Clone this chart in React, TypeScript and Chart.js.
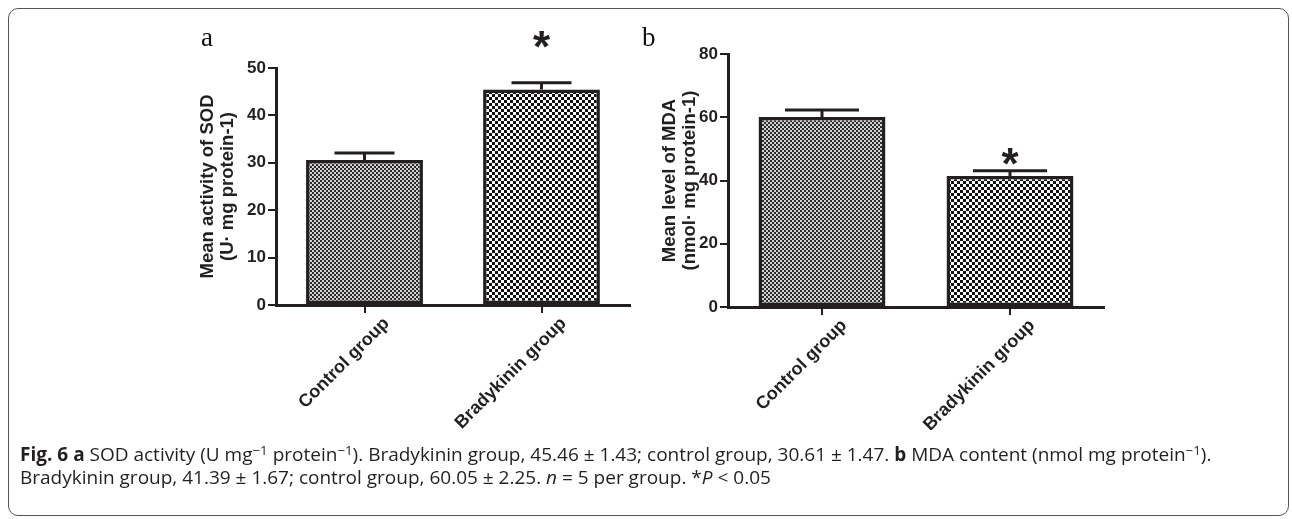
import React, { useEffect, useRef } from 'react';
import { Chart, registerables } from 'chart.js';

Chart.register(...registerables);

// ---------- data ----------
const categories = ['Control group', 'Bradykinin group'];
const sodMeans = [30.61, 45.46];
const sodErrors = [1.47, 1.43];
const mdaMeans = [60.05, 41.39];
const mdaErrors = [2.25, 1.67];
const significance = ['', '*'];
const sodAxisTitle = ['Mean activity of SOD', '(U· mg protein-1)'];
const mdaAxisTitle = ['Mean level of MDA', '(nmol· mg protein-1)'];
const sodAxisMax = 50;
const sodAxisStep = 10;
const mdaAxisMax = 80;
const mdaAxisStep = 20;

const INK = '#231f20';
const SANS = '"Liberation Sans", Arial, sans-serif';

function makeChecker(cell: number, dark: string, light: string) {
  const c = document.createElement('canvas');
  c.width = cell * 2;
  c.height = cell * 2;
  const g = c.getContext('2d')!;
  g.fillStyle = light;
  g.fillRect(0, 0, cell * 2, cell * 2);
  g.fillStyle = dark;
  g.fillRect(0, 0, cell, cell);
  g.fillRect(cell, cell, cell, cell);
  return g.createPattern(c, 'repeat');
}

function errorBarPlugin(errors: number[], marks: string[], capWidth: number, starGap: number) {
  return {
    id: 'errorBars',
    afterDatasetsDraw(chart: any) {
      const ctx = chart.ctx;
      const meta = chart.getDatasetMeta(0);
      const ys = chart.scales.y;
      const values = chart.data.datasets[0].data as number[];
      ctx.save();
      ctx.strokeStyle = INK;
      ctx.fillStyle = INK;
      ctx.lineWidth = 3;
      meta.data.forEach((bar: any, i: number) => {
        const x = bar.x;
        const top = bar.y;
        const yErr = ys.getPixelForValue(values[i] + errors[i]);
        ctx.beginPath();
        ctx.moveTo(x, top);
        ctx.lineTo(x, yErr);
        ctx.moveTo(x - capWidth / 2, yErr);
        ctx.lineTo(x + capWidth / 2, yErr);
        ctx.stroke();
        if (marks[i]) {
          ctx.font = `bold 44px ${SANS}`;
          ctx.textAlign = 'center';
          ctx.textBaseline = 'alphabetic';
          ctx.fillText(marks[i], x, yErr - starGap);
        }
      });
      ctx.restore();
    },
  };
}

type PanelProps = {
  left: number;
  top: number;
  width: number;
  height: number;
  means: number[];
  errors: number[];
  title: string[];
  max: number;
  step: number;
  padLeft: number;
  padTop: number;
  padRight: number;
  yWidth: number;
  xHeight: number;
  barPct: number;
  capWidth: number;
  starGap: number;
  labelShift: number;
};

function BarPanel(p: PanelProps) {
  const ref = useRef<HTMLCanvasElement>(null);
  useEffect(() => {
    if (!ref.current) return;
    const fine = makeChecker(2, '#2e2b2b', '#d2d2d2');
    const coarse = makeChecker(3, '#111111', '#ffffff');
    const chart = new Chart(ref.current, {
      type: 'bar',
      data: {
        labels: categories,
        datasets: [
          {
            data: p.means,
            backgroundColor: [fine, coarse] as any,
            borderColor: INK,
            borderWidth: 3.5,
            borderSkipped: false,
            barPercentage: p.barPct,
            categoryPercentage: 1,
          },
        ],
      },
      options: {
        animation: false,
        responsive: false,
        layout: { padding: { left: p.padLeft, top: p.padTop, right: p.padRight, bottom: 0 } },
        plugins: { legend: { display: false }, tooltip: { enabled: false } },
        scales: {
          x: {
            offset: true,
            grid: { offset: false, drawOnChartArea: false, drawTicks: true, tickLength: 8, lineWidth: 2, color: INK },
            border: { display: true, color: INK, width: 3 },
            ticks: {
              color: INK,
              font: { family: SANS, size: 18, weight: 'bold' },
              maxRotation: 45,
              minRotation: 45,
              padding: 0,
              labelOffset: p.labelShift,
            },
            afterFit: (s: any) => {
              s.height = p.xHeight;
            },
          },
          y: {
            min: 0,
            max: p.max,
            ticks: { stepSize: p.step, color: INK, font: { family: SANS, size: 17, weight: 'bold' }, padding: 2 },
            grid: { drawOnChartArea: false, drawTicks: true, tickLength: 8, lineWidth: 2, color: INK },
            border: { display: true, color: INK, width: 3 },
            title: {
              display: true,
              text: p.title,
              color: INK,
              font: { family: SANS, size: 18.5, weight: 'bold', lineHeight: 1.05 },
              padding: 0,
            },
            afterFit: (s: any) => {
              s.width = p.yWidth;
            },
          },
        },
      } as any,
      plugins: [errorBarPlugin(p.errors, significance, p.capWidth, p.starGap)],
    });
    return () => chart.destroy();
  }, []);
  return (
    <canvas
      ref={ref}
      width={p.width}
      height={p.height}
      style={{ position: 'absolute', left: p.left, top: p.top, width: p.width, height: p.height }}
    />
  );
}

export default function App() {
  const capStyle: React.CSSProperties = {
    position: 'fixed',
    left: 20,
    whiteSpace: 'nowrap',
    fontFamily: '"Open Sans", sans-serif',
    fontSize: 19,
    color: '#231f20',
    lineHeight: '23px',
  };
  const sup: React.CSSProperties = { fontSize: '0.7em', verticalAlign: '0.45em', lineHeight: 0 };
  const panelLetter: React.CSSProperties = {
    position: 'fixed',
    top: 22,
    fontFamily: '"Liberation Serif", serif',
    fontSize: 27,
    color: '#111',
  };
  return (
    <div>
      <div
        style={{
          position: 'fixed',
          left: 8,
          top: 8,
          width: 1281,
          height: 508,
          border: '1.5px solid #555',
          borderRadius: 10,
          boxSizing: 'border-box',
        }}
      />
      <div style={{ ...panelLetter, left: 201 }}>a</div>
      <div style={{ ...panelLetter, left: 642 }}>b</div>
      <div style={{ position: 'fixed', left: 0, top: 0 }}>
        <BarPanel
          left={150}
          top={10}
          width={500}
          height={420}
          means={sodMeans}
          errors={sodErrors}
          title={sodAxisTitle}
          max={sodAxisMax}
          step={sodAxisStep}
          padLeft={48.3}
          padTop={58}
          padRight={20}
          yWidth={77.7}
          xHeight={125}
          barPct={0.66}
          capWidth={60}
          starGap={21}
          labelShift={22}
        />
        <BarPanel
          left={600}
          top={10}
          width={540}
          height={420}
          means={mdaMeans}
          errors={mdaErrors}
          title={mdaAxisTitle}
          max={mdaAxisMax}
          step={mdaAxisStep}
          padLeft={60.3}
          padTop={44}
          padRight={36}
          yWidth={67.7}
          xHeight={123}
          barPct={0.675}
          capWidth={74}
          starGap={-8}
          labelShift={22}
        />
      </div>
      <div style={{ ...capStyle, top: 443 }}>
        <b>Fig. 6</b> <b>a</b> SOD activity (U mg<sup style={sup}>−1</sup> protein<sup style={sup}>−1</sup>). Bradykinin
        group, 45.46 ± 1.43; control group, 30.61 ± 1.47. <b>b</b> MDA content (nmol mg protein
        <sup style={sup}>−1</sup>).
      </div>
      <div style={{ ...capStyle, top: 466 }}>
        Bradykinin group, 41.39 ± 1.67; control group, 60.05 ± 2.25. <i>n</i> = 5 per group. *<i>P</i> &lt; 0.05
      </div>
    </div>
  );
}
